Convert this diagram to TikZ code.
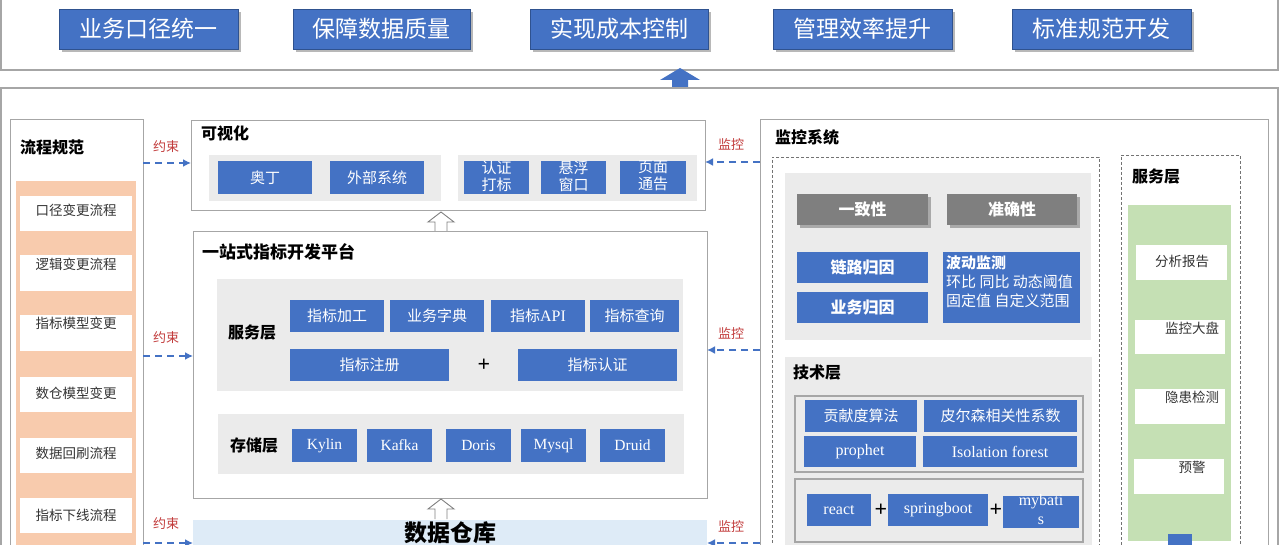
\documentclass[tikz,border=0pt]{standalone}
\usepackage{fontspec}
\setmainfont{Liberation Serif}
\newfontfamily\cjk{Noto Sans CJK SC}
\usetikzlibrary{arrows.meta}
\definecolor{ublue}{HTML}{4472C4}
\definecolor{ublued}{HTML}{2F528F}
\definecolor{frameg}{HTML}{A6A6A6}
\definecolor{stripg}{HTML}{EBEBEB}
\definecolor{peach}{HTML}{F8CBAD}
\definecolor{lgreen}{HTML}{C5E0B4}
\definecolor{lblue}{HTML}{DEEBF7}
\definecolor{lred}{HTML}{C23B3B}
\definecolor{darkg}{HTML}{7F7F7F}
\newcommand\R[7]{\node[#1,anchor=north west,inner sep=0pt,outer sep=0pt,minimum width={#5-#3},minimum height={#6-#4}] (#2) at (#3,#4) {#7};}
\tikzset{
 frame/.style={draw=frameg, line width=1.2pt, fill=white},
 goal/.style={fill=ublue, draw=ublued, line width=0.8pt, text=white, font=\cjk\fontsize{23}{25}\selectfont},
 gshadow/.style={fill=black, opacity=0.28},
 bb/.style={fill=ublue, text=white, font=\cjk\fontsize{15}{17}\selectfont},
 bbb/.style={fill=ublue, text=white, font=\cjk\bfseries\fontsize{16}{18}\selectfont},
 gb/.style={fill=darkg, text=white, font=\cjk\bfseries\fontsize{16}{18}\selectfont},
 lat/.style={fill=ublue, text=white, font=\rmfamily\fontsize{16}{18}\selectfont},
 strip/.style={fill=stripg},
 ttl/.style={anchor=west, inner sep=0pt, font=\cjk\bfseries\fontsize{16}{18}\selectfont},
 wbox/.style={fill=white},
 wtxt/.style={inner sep=0pt, text=black!80, font=\cjk\fontsize{13.5}{15}\selectfont},
 lab/.style={inner sep=0pt, text=lred, font=\cjk\fontsize{13}{15}\selectfont},
 link/.style={draw=ublue, line width=1.8pt, dash pattern=on 7pt off 5pt, -{Latex[length=8pt,width=8pt]}},
 dbox/.style={draw=black!55, line width=0.8pt, dash pattern=on 3pt off 2pt},
 plus/.style={inner sep=0pt, font=\rmfamily\bfseries\fontsize{22}{22}\selectfont},
 hollow/.style={draw=black!50, fill=white, line width=0.9pt},
}
\begin{document}
\begin{tikzpicture}[x=1pt,y=-1pt]
\useasboundingbox[fill=white] (0,0) rectangle (1280,545);
% ---------- top goals ----------
\R{frame}{topf}{1}{-5}{1278}{70}{}
\foreach \n/\a/\b/\t in {g1/59/238/业务口径统一, g2/293/470/保障数据质量, g3/530/708/实现成本控制, g4/773/952/管理效率提升, g5/1012/1191/标准规范开发}{
  \fill[gshadow] (\a+3,12) rectangle (\b+3,52);
  \R{goal}{\n}{\a}{9}{\b}{49}{\t}
}
\fill[ublue] (672,89) -- (672,80) -- (660,80) -- (680,68) -- (700,80) -- (688,80) -- (688,89) -- cycle;
% ---------- main frame ----------
\R{frame}{mainf}{1}{88}{1278}{570}{}
% ---------- left: process ----------
\R{frame, line width=1pt}{flow}{10}{120}{143}{570}{}
\node[ttl] (flowt) at (20,147) {流程规范};
\R{fill=peach}{peachs}{16}{181}{136}{570}{}
\foreach \i/\a/\b/\c/\t in {1/196/231/210/口径变更流程, 2/255/291/264/逻辑变更流程, 3/315/351/323/指标模型变更, 4/377/412/393/数仓模型变更, 5/438/473/453/数据回刷流程, 6/498/533/515/指标下线流程}{
  \R{wbox}{w\i}{20}{\a}{132}{\b}{}
  \node[wtxt] (wt\i) at (76,\c) {\t};
}
% ---------- visualisation ----------
\R{frame, line width=1pt}{vis}{191}{121}{705}{211}{}
\node[ttl] (vist) at (201,133) {可视化};
\R{strip}{vs1}{209}{155}{441}{201}{}
\R{strip}{vs2}{458}{155}{697}{201}{}
\R{bb}{v1}{218}{161}{312}{194}{奥丁}
\R{bb}{v2}{330}{161}{424}{194}{外部系统}
\R{fill=ublue}{v3}{464}{161}{529}{194}{}
\R{fill=ublue}{v4}{541}{161}{606}{194}{}
\R{fill=ublue}{v5}{620}{161}{686}{194}{}
\foreach \n/\t in {v3/认证\\打标, v4/悬浮\\窗口, v5/页面\\通告}{
  \node[inner sep=0pt, align=center, text=white, font=\cjk\fontsize{15}{17}\selectfont] (\n t) at ([yshift=1.5pt]\n.center) {\t};
}
% hollow arrow 1
\draw[hollow] (435,232) -- (435,222) -- (428,222) -- (441,212) -- (454,222) -- (447,222) -- (447,232);
% ---------- platform ----------
\R{frame, line width=1pt}{plat}{193}{232}{707}{498}{}
\node[ttl, font=\cjk\bfseries\fontsize{17}{19}\selectfont] (platt) at (202,252) {一站式指标开发平台};
\R{strip}{svs}{217}{279}{683}{391}{}
\node[ttl, anchor=center] (svst) at (252,333) {服务层};
\R{bb}{p1}{290}{300}{384}{332}{指标加工}
\R{bb}{p2}{390}{300}{484}{332}{业务字典}
\R{bb}{p3}{491}{300}{585}{332}{指标{\rmfamily\fontsize{16}{17}\selectfont API}}
\R{bb}{p4}{590}{300}{679}{332}{指标查询}
\R{bb}{p5}{290}{349}{449}{381}{指标注册}
\node[plus] (pp) at (484,365) {+};
\R{bb}{p6}{518}{349}{677}{381}{指标认证}
\R{strip}{sts}{218}{414}{684}{474}{}
\node[ttl, anchor=center] (stst) at (254,445) {存储层};
\foreach \n/\a/\b/\t in {k1/292/357/Kylin, k2/367/432/Kafka, k3/446/511/Doris, k4/521/586/Mysql, k5/600/665/Druid}{
  \R{lat, font=\rmfamily\fontsize{15.5}{17}\selectfont}{\n}{\a}{429}{\b}{462}{\t}
}
% hollow arrow 2
\draw[hollow] (435,519) -- (435,509) -- (428,509) -- (441,499) -- (454,509) -- (447,509) -- (447,519);
% ---------- data warehouse ----------
\R{fill=lblue}{dw}{193}{520}{707}{570}{}
\node[inner sep=0pt, font=\cjk\bfseries\fontsize{23}{25}\selectfont] (dwt) at (450,533) {数据仓库};
% ---------- monitoring system ----------
\R{frame, line width=1pt}{mon}{760}{120}{1268}{570}{}
\node[ttl] (mont) at (775,137) {监控系统};
\R{dbox}{mq}{772}{157}{1099}{570}{}
\R{strip}{mqs}{785}{173}{1091}{340}{}
\fill[gshadow] (800,197) rectangle (931,228);
\fill[gshadow] (950,197) rectangle (1080,228);
\R{gb}{c1}{797}{194}{928}{225}{一致性}
\R{gb}{c2}{947}{194}{1077}{225}{准确性}
\R{bbb}{c3}{797}{252}{928}{283}{链路归因}
\R{bbb}{c4}{797}{292}{928}{323}{业务归因}
\R{fill=ublue}{c5}{943}{252}{1080}{323}{}
\node[inner sep=0pt, anchor=north west, align=left, text=white, font=\cjk\fontsize{15}{19}\selectfont] (c5t) at (946,255) {{\bfseries 波动监测}\\环比 同比 动态阈值\\固定值 自定义范围};
% tech layer
\R{strip}{tech}{785}{357}{1092}{570}{}
\node[ttl] (techt) at (793,373) {技术层};
\R{strip, draw=frameg, line width=1.2pt}{alg}{795}{396}{1083}{472}{}
\R{bb}{t1}{805}{400}{917}{432}{贡献度算法}
\R{bb}{t2}{924}{400}{1077}{432}{皮尔森相关性系数}
\R{lat}{t3}{804}{436}{916}{467}{prophet}
\R{lat}{t4}{923}{436}{1077}{467}{Isolation forest}
\R{strip, draw=frameg, line width=1.2pt}{stack}{795}{479}{1083}{542}{}
\R{lat}{s1}{807}{494}{871}{526}{react}
\node[plus] (sp1) at (881,510) {+};
\R{lat}{s2}{888}{494}{988}{526}{springboot}
\node[plus] (sp2) at (996,510) {+};
\R{fill=ublue}{s3}{1003}{496}{1079}{528}{}
\node[inner sep=0pt, align=center, text=white, font=\rmfamily\fontsize{16}{19}\selectfont] (s3t) at ([yshift=2pt]s3.center) {mybati\\s};
% service layer (right)
\R{dbox}{srv}{1121}{155}{1240}{570}{}
\node[ttl] (srvt) at (1132,177) {服务层};
\R{fill=lgreen}{gs}{1128}{205}{1231}{541}{}
\foreach \i/\xa/\xb/\a/\b/\tx/\ty/\t in {1/1136/1227/245/280/1182/261/分析报告, 2/1135/1225/320/354/1192/328/监控大盘, 3/1135/1225/389/424/1192/397/隐患检测, 4/1134/1224/459/494/1192/467/预警}{
  \R{wbox}{r\i}{\xa}{\a}{\xb}{\b}{}
  \node[wtxt] (rt\i) at (\tx,\ty) {\t};
}
\R{fill=ublue}{rb}{1168}{534}{1192}{550}{}
% ---------- constraint / monitoring connectors ----------
\node[lab] (y1) at (166,147) {约束};
\node[lab] (y2) at (166,338) {约束};
\node[lab] (y3) at (166,524) {约束};
\node[lab] (m1) at (731,145) {监控};
\node[lab] (m2) at (731,334) {监控};
\node[lab] (m3) at (731,526) {监控};
\coordinate (ya) at (0,163);
\coordinate (yb) at (0,356);
\coordinate (yc) at (0,543);
\coordinate (ma) at (0,162);
\coordinate (mb) at (0,350);
\coordinate (mc) at (0,543);
\draw[link] (flow.east |- ya) -- (vis.west |- ya);
\draw[link] (flow.east |- yb) -- (plat.west |- yb);
\draw[link] (flow.east |- yc) -- (dw.west |- yc);
\draw[link] (mon.west |- ma) -- (vis.east |- ma);
\draw[link] (mon.west |- mb) -- (plat.east |- mb);
\draw[link] (mon.west |- mc) -- (dw.east |- mc);
\end{tikzpicture}
\end{document}
